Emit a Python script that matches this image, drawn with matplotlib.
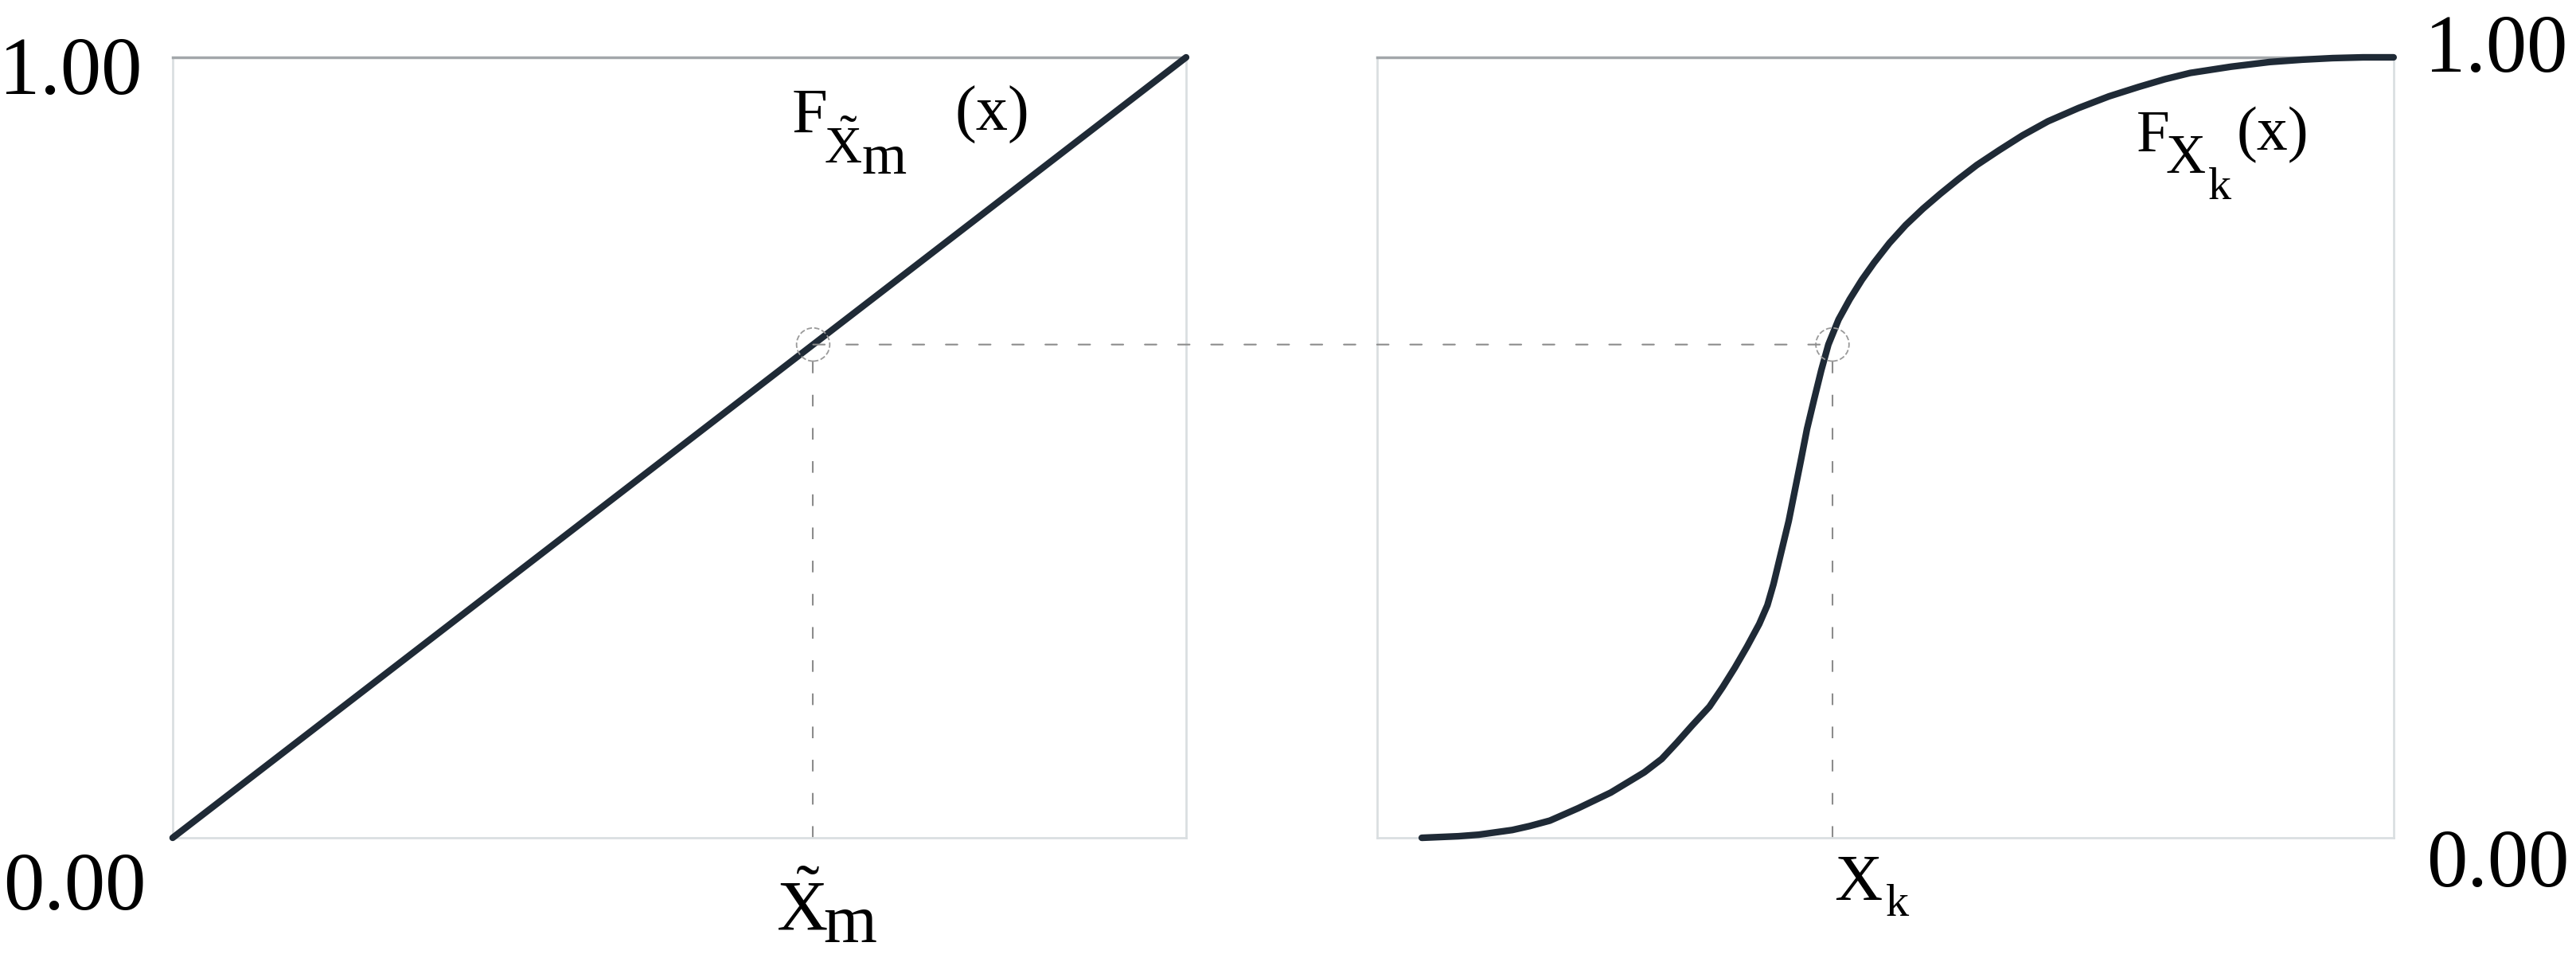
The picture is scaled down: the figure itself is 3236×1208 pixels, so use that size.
import matplotlib
matplotlib.use("Agg")
import matplotlib.pyplot as plt
from matplotlib.patches import ConnectionPatch

plt.rcParams["font.family"] = ["Liberation Serif", "DejaVu Serif"]
plt.rcParams["mathtext.fontset"] = "custom"
plt.rcParams["mathtext.rm"] = "Liberation Serif"
plt.rcParams["mathtext.it"] = "Liberation Serif:italic"

W, H = 3237, 1208

# left panel: uniform cdf of the transformed variable
uni_x = [0.0, 1.0]
uni_y = [0.0, 1.0]

# right panel: cdf of X_k
cdf_x = [0.044, 0.08, 0.10, 0.133, 0.15, 0.17, 0.198, 0.23, 0.263, 0.28,
         0.295, 0.31, 0.327, 0.34, 0.352, 0.364, 0.376, 0.384, 0.390, 0.395,
         0.400, 0.405, 0.409, 0.413, 0.417, 0.423, 0.430, 0.437, 0.444, 0.454,
         0.465, 0.477, 0.489, 0.504, 0.52, 0.537, 0.554, 0.572, 0.59, 0.612,
         0.635, 0.66, 0.69, 0.72, 0.749, 0.775, 0.80, 0.84, 0.878, 0.91,
         0.94, 0.97, 1.0]
cdf_y = [0.0, 0.002, 0.004, 0.010, 0.015, 0.022, 0.038, 0.058, 0.084, 0.101,
         0.122, 0.144, 0.168, 0.193, 0.218, 0.245, 0.274, 0.298, 0.325, 0.352,
         0.379, 0.406, 0.432, 0.458, 0.484, 0.524, 0.562, 0.599, 0.632, 0.664,
         0.690, 0.715, 0.737, 0.762, 0.785, 0.806, 0.825, 0.844, 0.862, 0.881,
         0.900, 0.918, 0.935, 0.950, 0.962, 0.972, 0.980, 0.988, 0.994, 0.997,
         0.999, 1.0, 1.0]

# matched quantile
p_level = 0.632
x_m = 0.632
x_k = 0.448

tick_labels = ["0.00", "1.00"]

line_col = "#1f2a36"
dash_col = "#8c8c8c"


def px(x, y):
    # pixel position (from top-left) to figure fraction
    return x / W, 1 - y / H


fig = plt.figure(figsize=(W / 100, H / 100), dpi=100)
ax1 = fig.add_axes([0.0670, 0.1291, 0.3933, 0.8113])
ax2 = fig.add_axes([0.5344, 0.1291, 0.3945, 0.8113])

for ax in (ax1, ax2):
    ax.set_xlim(0, 1)
    ax.set_ylim(0, 1)
    ax.set_xticks([])
    ax.set_yticks([])
    for side in ("left", "right", "bottom"):
        ax.spines[side].set_color("#dadfe1")
        ax.spines[side].set_linewidth(2)
    ax.spines["top"].set_color("#a3a7aa")
    ax.spines["top"].set_linewidth(2.5)

ax1.plot(uni_x, uni_y, color=line_col, lw=6, solid_capstyle="round",
         clip_on=False, zorder=3)
ax2.plot(cdf_x, cdf_y, color=line_col, lw=6, solid_capstyle="round",
         solid_joinstyle="round", clip_on=False, zorder=3)

dash = (0, (7, 13))
ax1.plot([x_m, x_m], [0, p_level], color=dash_col, lw=1.5, ls=dash)
ax2.plot([x_k, x_k], [0, p_level], color=dash_col, lw=1.5, ls=dash)
con = ConnectionPatch(xyA=(x_m, p_level), coordsA=ax1.transData,
                      xyB=(x_k, p_level), coordsB=ax2.transData,
                      color=dash_col, lw=1.5, ls=dash)
fig.add_artist(con)

ax1.scatter([x_m], [p_level], s=900, facecolors="none", edgecolors="#9a9a9a",
            linewidths=1.3, linestyles="--", zorder=4)
ax2.scatter([x_k], [p_level], s=900, facecolors="none", edgecolors="#9a9a9a",
            linewidths=1.3, linestyles="--", zorder=4)

# axis value labels
fig.text(*px(178, 118), tick_labels[1], ha="right", va="baseline", fontsize=74)
fig.text(*px(184, 1142), tick_labels[0], ha="right", va="baseline", fontsize=74)
fig.text(*px(3046, 90), tick_labels[1], ha="left", va="baseline", fontsize=74)
fig.text(*px(3048, 1113), tick_labels[0], ha="left", va="baseline", fontsize=74)

# variable labels under the x axes
fig.text(*px(975, 1167), r"$\tilde{\mathrm{X}}$", ha="left", va="baseline", fontsize=64)
fig.text(*px(1034, 1183), "m", ha="left", va="baseline", fontsize=62)
fig.text(*px(2304, 1130), "X", ha="left", va="baseline", fontsize=60)
fig.text(*px(2369, 1150), "k", ha="left", va="baseline", fontsize=42)

# curve labels
fig.text(*px(995, 167), "F", ha="left", va="baseline", fontsize=58)
fig.text(*px(1035, 205), r"$\tilde{\mathrm{X}}$", ha="left", va="baseline", fontsize=47)
fig.text(*px(1083, 218), "m", ha="left", va="baseline", fontsize=52)
fig.text(*px(1200, 164), "(x)", ha="left", va="baseline", fontsize=58)

fig.text(*px(2684, 190), "F", ha="left", va="baseline", fontsize=54)
fig.text(*px(2720, 217), "X", ha="left", va="baseline", fontsize=50)
fig.text(*px(2774, 250), "k", ha="left", va="baseline", fontsize=42)
fig.text(*px(2810, 188), "(x)", ha="left", va="baseline", fontsize=56)

fig.savefig("out.png", dpi=100, facecolor="white")
